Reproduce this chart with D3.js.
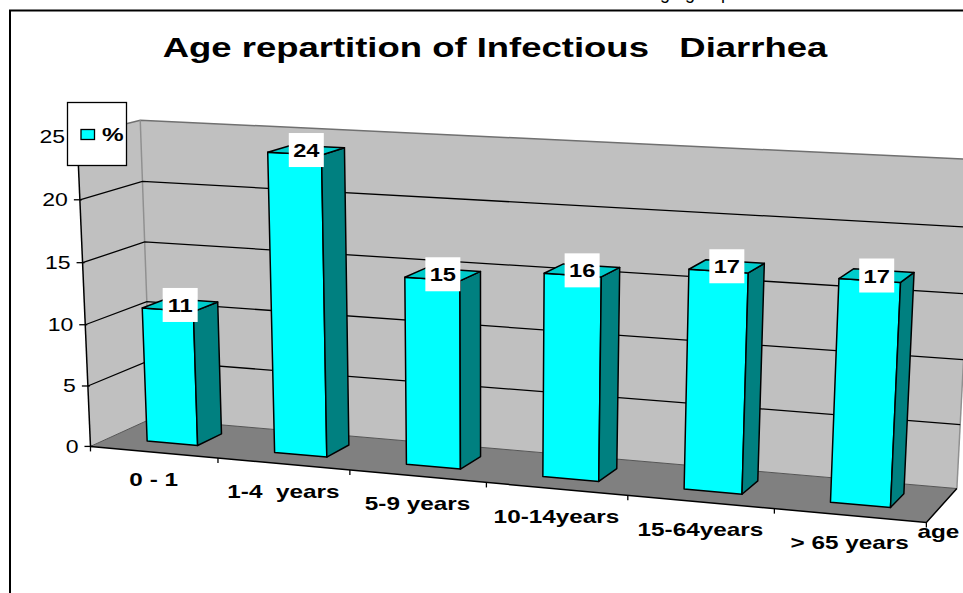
<!DOCTYPE html>
<html>
<head>
<meta charset="utf-8">
<script src="https://cdn.jsdelivr.net/npm/d3@7"></script>
<style>
body { margin: 0; background: #fff; }
text { font-family: Arial, "Liberation Sans", sans-serif; white-space: pre; }
</style>
</head>
<body>
<div id="chart-area"></div>
<script>
const categories = ["0 - 1", "1-4  years", "5-9 years", "10-14years", "15-64years", "> 65 years"];
const values = [11, 24, 14.9, 15.9, 16.9, 16.9];
const yTicks = [0, 5, 10, 15, 20, 25];

// 3d view, close to the excel settings of the original
const view = {
    rotation: 20.95,
    elevation: 17.85,
    roll: 0.1,
    focal: 2875,
    cx: 468.9,
    cy: 675.1,
    offset: [-315.9, 190.9, 2400]
};
const box = { width: 706.1, height: 256.7, depth: 111.1 };
const barGap = 0.3;            // per side, in category units
const barDepth = [0.309, 0.723]; // front / back, fraction of floor depth
const SX = 1.28;               // the original is stretched horizontally

const nCat = categories.length;
const yMax = d3.max(yTicks);

const xWorld = d3.scaleLinear().domain([0, nCat]).range([0, box.width]);
const yWorld = d3.scaleLinear().domain([0, yMax]).range([0, box.height]);
const zWorld = d3.scaleLinear().domain([0, 1]).range([0, box.depth]);

const rad = d => d * Math.PI / 180;
function project(X, Y, Z) {
    const wx = xWorld(X), wy = yWorld(Y), wz = zWorld(Z);
    const r = rad(view.rotation), e = rad(view.elevation), g = rad(view.roll);
    const x1 = wx * Math.cos(r) + wz * Math.sin(r);
    const z1 = -wx * Math.sin(r) + wz * Math.cos(r);
    const y2 = wy * Math.cos(e) + z1 * Math.sin(e);
    const z2 = -wy * Math.sin(e) + z1 * Math.cos(e);
    const x3 = x1 * Math.cos(g) - y2 * Math.sin(g);
    const y3 = x1 * Math.sin(g) + y2 * Math.cos(g);
    const cx = x3 + view.offset[0], cy = y3 + view.offset[1], cz = z2 + view.offset[2];
    return [view.cx + view.focal * cx / cz, view.cy - view.focal * cy / cz];
}

const poly = pts => "M" + pts.map(q => q.join(",")).join("L") + "Z";
const line = pts => "M" + pts.map(q => q.join(",")).join("L");

const svg = d3.select("#chart-area").append("svg")
    .attr("width", 963)
    .attr("height", 593);

// bit of the page text above the frame
svg.append("text")
    .attr("x", 650).attr("y", -1)
    .attr("font-family", "'Liberation Serif', serif")
    .attr("font-size", 18)
    .text("age group");

svg.append("rect")
    .attr("x", 10).attr("y", 10.5)
    .attr("width", 1000).attr("height", 700)
    .attr("fill", "none").attr("stroke", "#000").attr("stroke-width", 2);

const g = svg.append("g");

// walls and floor
g.append("path")
    .attr("d", poly([project(0, 0, 0), project(0, yMax, 0), project(0, yMax, 1), project(0, 0, 1)]))
    .attr("fill", "#c0c0c0");
g.append("path")
    .attr("d", poly([project(0, 0, 1), project(0, yMax, 1), project(nCat, yMax, 1), project(nCat, 0, 1)]))
    .attr("fill", "#c0c0c0");
g.append("path")
    .attr("d", poly([project(0, 0, 0), project(nCat, 0, 0), project(nCat, 0, 1), project(0, 0, 1)]))
    .attr("fill", "#808080");
g.append("path")
    .attr("d", line([project(0, yMax, 0), project(0, yMax, 1), project(nCat, yMax, 1)]))
    .attr("fill", "none").attr("stroke", "#707070").attr("stroke-width", 1.5);
g.append("path")
    .attr("d", line([project(0, 0, 1), project(0, yMax, 1)]))
    .attr("fill", "none").attr("stroke", "#909090").attr("stroke-width", 1.5);
g.append("path")
    .attr("d", line([project(nCat, 0, 1), project(nCat, yMax, 1)]))
    .attr("fill", "none").attr("stroke", "#909090").attr("stroke-width", 1.5);
g.append("path")
    .attr("d", line([project(0, 0, 0), project(0, 0, 1), project(nCat, 0, 1)]))
    .attr("fill", "none").attr("stroke", "#555").attr("stroke-width", 1);

g.selectAll(".grid").data(yTicks.filter(v => v > 0 && v < yMax)).enter()
    .append("path")
    .attr("class", "grid")
    .attr("d", v => line([project(0, v, 0), project(0, v, 1), project(nCat, v, 1)]))
    .attr("fill", "none").attr("stroke", "#000").attr("stroke-width", 1.3);

// axes
g.append("path")
    .attr("d", line([project(0, 0, 0), project(0, yMax, 0)]))
    .attr("fill", "none").attr("stroke", "#000").attr("stroke-width", 1.5);
g.append("path")
    .attr("d", line([project(0, 0, 0), project(nCat, 0, 0), project(nCat, 0, 1)]))
    .attr("fill", "none").attr("stroke", "#000").attr("stroke-width", 1.5);

g.selectAll(".ytick").data(yTicks).enter()
    .append("path")
    .attr("class", "ytick")
    .attr("d", v => { const q = project(0, v, 0); return `M${q[0] - 6},${q[1]}H${q[0] + 2}`; })
    .attr("stroke", "#000").attr("stroke-width", 1.3);
g.selectAll(".ylabel").data(yTicks).enter()
    .append("text")
    .attr("class", "ylabel")
    .attr("transform", v => { const q = project(0, v, 0); return `translate(${q[0] - 12},${q[1] + 6.5}) scale(${SX},1)`; })
    .attr("text-anchor", "end")
    .attr("font-size", 18)
    .text(v => v);

g.selectAll(".xtick").data(d3.range(nCat + 1)).enter()
    .append("path")
    .attr("class", "xtick")
    .attr("d", i => { const q = project(i, 0, 0); return `M${q[0]},${q[1]}v5`; })
    .attr("stroke", "#000").attr("stroke-width", 1.3);
g.selectAll(".xlabel").data(categories).enter()
    .append("text")
    .attr("class", "xlabel")
    .attr("transform", (c, i) => { const q = project(i + 0.5, 0, 0); return `translate(${q[0]},${q[1] + 34}) scale(${SX},1)`; })
    .attr("text-anchor", "middle")
    .attr("font-size", 19)
    .attr("font-weight", "bold")
    .text(c => c);

const corner = project(nCat, 0, 0);
g.append("text")
    .attr("transform", `translate(${corner[0] - 9},${corner[1] + 16}) scale(${SX},1)`)
    .attr("font-size", 19)
    .attr("font-weight", "bold")
    .text("age");

// bars
const band = d3.scaleBand()
    .domain(categories)
    .range([0, nCat])
    .paddingInner(2 * barGap)
    .paddingOuter(barGap);
const [z0, z1] = barDepth;

const bars = g.selectAll(".bar").data(values).enter()
    .append("g")
    .attr("class", "bar");

bars.each(function(v, i) {
    const x0 = band(categories[i]), x1 = x0 + band.bandwidth();
    const b = d3.select(this);
    b.append("path")
        .attr("d", poly([project(x0, 0, z0), project(x1, 0, z0), project(x1, v, z0), project(x0, v, z0)]))
        .attr("fill", "#00ffff");
    b.append("path")
        .attr("d", poly([project(x1, 0, z0), project(x1, 0, z1), project(x1, v, z1), project(x1, v, z0)]))
        .attr("fill", "#008080");
    b.append("path")
        .attr("d", poly([project(x0, v, z0), project(x1, v, z0), project(x1, v, z1), project(x0, v, z1)]))
        .attr("fill", "#00cccc");
    b.selectAll("path")
        .attr("stroke", "#000").attr("stroke-width", 1.5).attr("stroke-linejoin", "round");

    const q = project(x0 + band.bandwidth() / 2, v, (z0 + z1) / 2);
    b.append("rect")
        .attr("x", q[0] - 17.5).attr("y", q[1] - 17)
        .attr("width", 35).attr("height", 34)
        .attr("fill", "#fff");
    b.append("text")
        .attr("transform", `translate(${q[0]},${q[1] + 7}) scale(${SX},1)`)
        .attr("text-anchor", "middle")
        .attr("font-size", 18.5)
        .attr("font-weight", "bold")
        .text(d3.format(".0f")(v));
});

// legend
svg.append("rect")
    .attr("x", 67.5).attr("y", 102.5).attr("width", 59).attr("height", 63)
    .attr("fill", "#fff").attr("stroke", "#000").attr("stroke-width", 1.3);
svg.append("rect")
    .attr("x", 81).attr("y", 129.5).attr("width", 13.5).attr("height", 10)
    .attr("fill", "#00ffff").attr("stroke", "#000").attr("stroke-width", 1.3);
svg.append("text")
    .attr("transform", `translate(102,141) scale(${SX},1)`)
    .attr("font-size", 19)
    .attr("font-weight", "bold")
    .text("%");

// title
svg.append("text")
    .attr("transform", `translate(495,57) scale(${SX},1)`)
    .attr("text-anchor", "middle")
    .attr("font-size", 28.5)
    .attr("font-weight", "bold")
    .text("Age repartition of Infectious   Diarrhea");
</script>
</body>
</html>
